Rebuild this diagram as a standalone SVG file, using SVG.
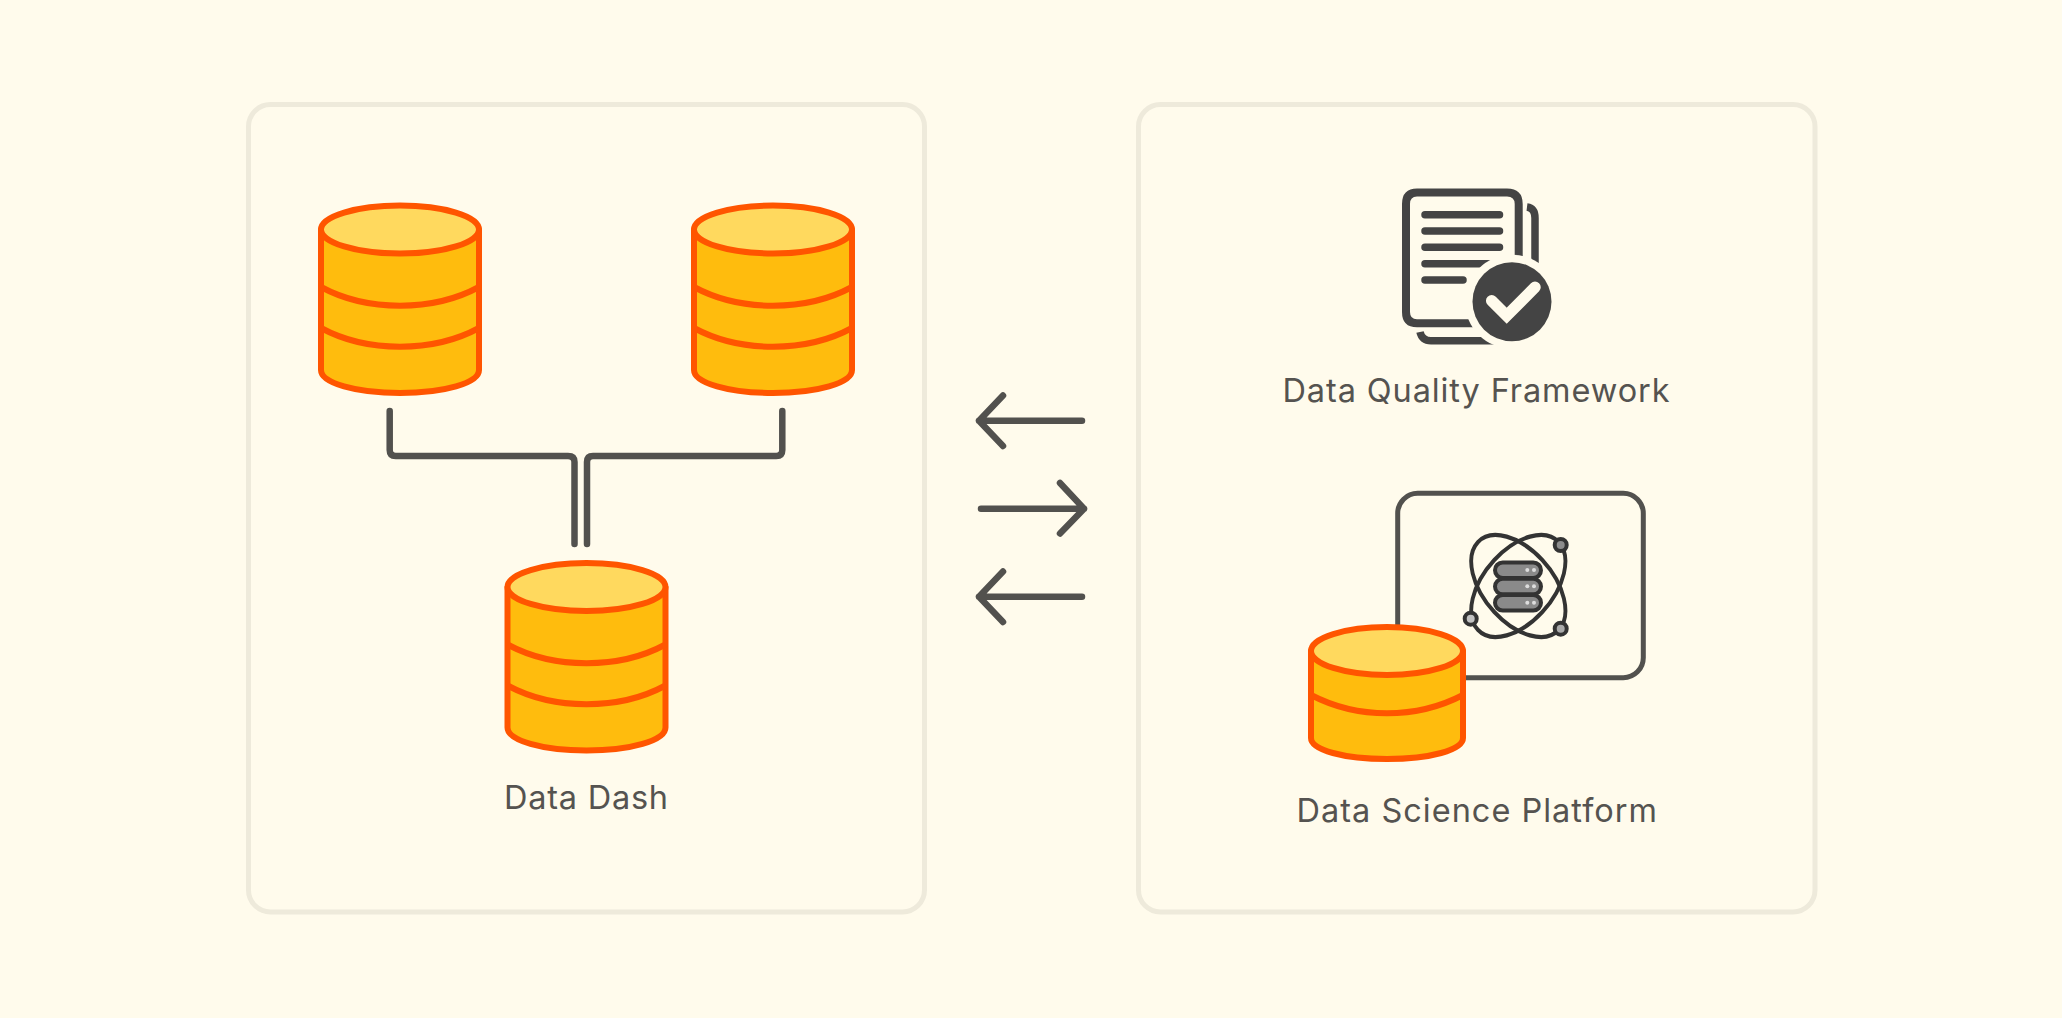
<svg xmlns="http://www.w3.org/2000/svg" xmlns:xlink="http://www.w3.org/1999/xlink" width="2062" height="1018" viewBox="0 0 2062 1018">
<style>
.panel{fill:none;stroke:#eeeadb;stroke-width:5}
.body{fill:#ffbc0d;stroke:#ff5500;stroke-width:6;stroke-linejoin:round}
.top{fill:#ffd95e;stroke:#ff5500;stroke-width:6}
.band{fill:none;stroke:#ff5500;stroke-width:6}
.conn{fill:none;stroke:#52514e;stroke-width:6.500;stroke-linecap:round;stroke-linejoin:round}
.label{font-family:Inter,"Liberation Sans",sans-serif;font-size:32.500px;fill:#555350}
.doc{fill:none;stroke:#444;stroke-width:8}
.docl{fill:none;stroke:#444;stroke-width:7.500;stroke-linecap:round}
.orb{fill:none;stroke:#333;stroke-width:4}
.nuc{stroke:#333;stroke-width:4}
.pill{fill:#8a8a8a;stroke:#333;stroke-width:4}
.dot{fill:#ddd}
</style>
<defs>
<g id="cyl3">
<path class="body" d="M321 230V370C321 383 356 393 400 393S479 383 479 370V230Z"/>
<ellipse class="top" cx="400" cy="229.500" rx="79" ry="24"/>
<path class="band" d="M321 287C345 300 372 305.700 400 305.700S455 300 479 287"/>
<path class="band" d="M321 328C345 341 372 346.700 400 346.700S455 341 479 328"/>
</g>
</defs>
<rect width="2062" height="1018" fill="#fffbec"/>
<g id="panel-left"><rect class="panel" x="248.500" y="104.500" width="676" height="807.500" rx="22"/></g>
<g id="panel-right"><rect class="panel" x="1138.500" y="104.500" width="676.500" height="807.500" rx="22"/></g>
<g id="db-1"><use xlink:href="#cyl3" href="#cyl3"/></g>
<g id="db-2"><use xlink:href="#cyl3" href="#cyl3" x="373"/></g>
<g id="db-3"><use xlink:href="#cyl3" href="#cyl3" x="186.500" y="357.500"/></g>
<g id="connectors">
<path class="conn" d="M389.700 411V450Q389.700 456 395.700 456H568Q574.500 456 574.500 462V544"/>
<path class="conn" d="M782.300 411V450Q782.300 456 776.300 456H593Q587 456 587 462V544"/>
<path class="conn" d="M1082 420.700H979M1003 395.500L979 420.700L1003 446"/>
<path class="conn" d="M981 508.700H1084M1060 483L1084 508.700L1060 533.500"/>
<path class="conn" d="M1082 596.700H979M1003 571.500L979 596.700L1003 622"/>
</g>
<g id="data-dash-label"><text class="label" x="504" y="808.500" textLength="164">Data Dash</text></g>
<g id="data-quality-framework">
<path class="doc" d="M1518.700 262V204Q1518.700 192.500 1507 192.500H1417Q1406 192.500 1406 204V312Q1406 323.300 1417 323.300H1480"/>
<path class="docl" style="stroke-linecap:butt" d="M1527 207Q1535 208 1535 218V275M1420 332Q1422 340.700 1431 340.700H1500"/>
<path class="docl" d="M1425 214.700H1499.500M1425 231H1499.500M1425 247.300H1499.500M1425 263.700H1499.500M1425 280H1463"/>
<circle cx="1512" cy="301.700" r="47" fill="#fffbec"/>
<circle cx="1512" cy="301.700" r="39.500" fill="#444"/>
<path d="M1491.700 300.700L1506.700 315.700L1535 287.300" fill="none" stroke="#fffbec" stroke-width="11.500" stroke-linecap="round" stroke-linejoin="miter"/>
<text class="label" x="1282.500" y="401.500" textLength="387">Data Quality Framework</text>
</g>
<g id="data-science-platform">
<rect x="1397.700" y="493.300" width="245.600" height="184.400" rx="20" fill="none" stroke="#52514e" stroke-width="5"/>
<g transform="translate(1518.300 586) scale(0.97 1.05)">
<ellipse class="orb" rx="59" ry="35" transform="rotate(45)"/>
<ellipse class="orb" rx="59" ry="35" transform="rotate(-45)"/>
</g>
<circle class="nuc" cx="1560.700" cy="545" r="6" fill="#8c8c8c"/>
<circle class="nuc" cx="1470.700" cy="618.700" r="6" fill="#c2c2c2"/>
<circle class="nuc" cx="1560.700" cy="628.700" r="6" fill="#aaa"/>
<rect class="pill" x="1495" y="562.500" width="46" height="15.500" rx="7.700"/>
<rect class="pill" x="1495" y="578.800" width="46" height="15.500" rx="7.700"/>
<rect class="pill" x="1495" y="595" width="46" height="15.500" rx="7.700"/>
<circle class="dot" cx="1527.300" cy="570" r="2"/><circle class="dot" cx="1534" cy="570" r="2"/>
<circle class="dot" cx="1527.300" cy="586.300" r="2"/><circle class="dot" cx="1534" cy="586.300" r="2"/>
<circle class="dot" cx="1527.300" cy="602.700" r="2"/><circle class="dot" cx="1534" cy="602.700" r="2"/>
<path class="body" d="M1311 651V738C1311 750 1344 759 1387 759S1463 750 1463 738V651Z"/>
<ellipse class="top" cx="1387" cy="651" rx="76" ry="24"/>
<path class="band" d="M1311 695C1334 707 1360 713.300 1387 713.300S1440 707 1463 695"/>
<text class="label" x="1296.500" y="821.500" textLength="360.500">Data Science Platform</text>
</g>
</svg>
